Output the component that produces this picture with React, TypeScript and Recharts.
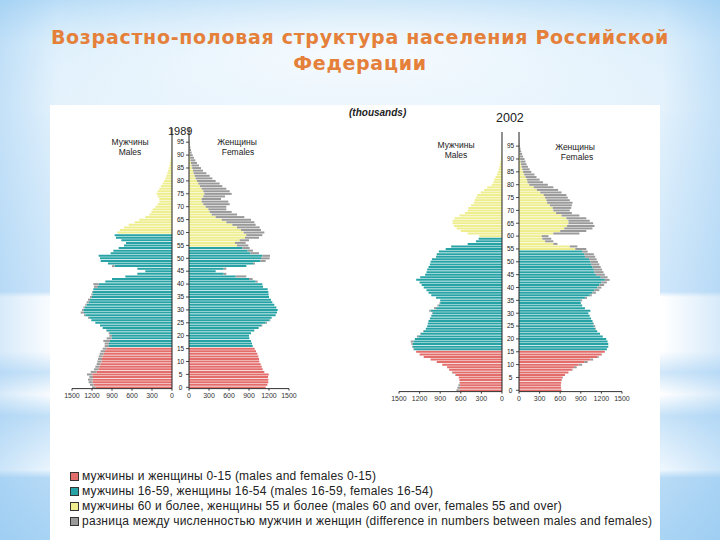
import { BarChart, Bar, XAxis, YAxis, Cell, ReferenceLine } from 'recharts'

// single-year ages shown on the pyramids
const AGES = Array.from({ length: 101 }, (_, i) => i)

// thousands of people, index = age
const MALES_1989 = [
  1200, 1230, 1250, 1260, 1240, 1275, 1220, 1170, 1150, 1130,
  1120, 1110, 1100, 1085, 1070, 1040, 1010, 1010, 1030, 980,
  940, 950, 990, 1040, 1080, 1150, 1210, 1260, 1320, 1370,
  1350, 1330, 1300, 1280, 1260, 1230, 1210, 1200, 1180, 1170,
  1180, 1000, 900, 700, 520, 400, 520, 900, 960, 1070,
  1080, 1100, 920, 880, 800, 720, 690, 760, 840, 860,
  820, 780, 720, 650, 560, 490, 400, 340, 310, 290,
  250, 215, 190, 190, 215, 230, 215, 190, 165, 140,
  120, 100, 85, 70, 60, 48, 38, 30, 22, 16,
  12, 9, 7, 5, 4, 3, 2, 1, 0, 0, 0,
]
const FEMALES_1989 = [
  1150, 1175, 1190, 1190, 1185, 1195, 1130, 1105, 1090, 1075,
  1055, 1050, 1040, 1025, 1005, 985, 955, 945, 930, 905,
  900, 930, 980, 1050, 1100, 1170, 1220, 1240, 1300, 1320,
  1330, 1310, 1280, 1250, 1230, 1200, 1195, 1190, 1180, 1110,
  1100, 1030, 955, 860, 560, 400, 560, 860, 990, 1150,
  1210, 1215, 1050, 960, 910, 890, 850, 900, 1050, 1100,
  1130, 1080, 1060, 1000, 980, 930, 830, 720, 640, 560,
  560, 610, 590, 480, 540, 640, 610, 560, 500, 460,
  400, 350, 310, 260, 210, 180, 150, 120, 95, 75,
  55, 40, 30, 22, 15, 10, 6, 4, 2, 1, 0,
]
const MALES_2002 = [
  665, 650, 635, 620, 620, 630, 680, 730, 770, 800,
  870, 950, 1040, 1140, 1200, 1250, 1290, 1310, 1320, 1330,
  1270, 1240, 1190, 1150, 1110, 1090, 1080, 1070, 1050, 1030,
  1020, 1060, 990, 940, 910, 900, 960, 1030, 1070, 1100,
  1140, 1170, 1200, 1250, 1190, 1120, 1100, 1090, 1070, 1050,
  1040, 1020, 960, 950, 920, 820, 740, 500, 380, 340,
  330, 500, 600, 660, 700, 720, 720, 690, 620, 540,
  500, 490, 450, 410, 400, 380, 360, 310, 260, 215,
  150, 125, 115, 95, 75, 60, 48, 38, 30, 22,
  16, 12, 9, 6, 4, 3, 2, 1, 0, 0, 0,
]
const FEMALES_2002 = [
  620, 612, 610, 615, 625, 640, 670, 720, 780, 840,
  920, 1000, 1080, 1160, 1210, 1250, 1280, 1300, 1300, 1290,
  1270, 1220, 1180, 1140, 1120, 1110, 1090, 1070, 1050, 1030,
  1010, 1040, 960, 920, 900, 920, 990, 1060, 1120, 1170,
  1200, 1240, 1280, 1320, 1290, 1250, 1230, 1210, 1190, 1170,
  1150, 1130, 1110, 1090, 1000, 980, 850, 560, 500, 470,
  430, 880, 980, 1070, 1100, 1080, 1030, 980, 880, 770,
  740, 760, 770, 780, 740, 710, 690, 620, 570, 500,
  420, 350, 300, 255, 225, 180, 155, 130, 110, 95,
  80, 60, 45, 32, 22, 15, 10, 6, 3, 2, 1,
]

const X_TICKS = [0, 300, 600, 900, 1200, 1500]
const LEGEND_LABELS = [
  'мужчины и женщины 0-15 (males and females 0-15)',
  'мужчины 16-59, женщины 16-54 (males 16-59, females 16-54)',
  'мужчины 60 и более, женщины 55 и более (males 60 and over, females 55 and over)',
  'разница между численностью мужчин и женщин (difference in numbers between males and females)',
]

const RED = '#e36d6b'
const TEAL = '#27a3a6'
const YELLOW = '#eeee8e'
const GRAY = '#9a9a9a'
const LEGEND_COLORS = [RED, TEAL, YELLOW, GRAY]
const FONT = "'Liberation Sans', Arial, sans-serif"

function groupColor(age: number, male: boolean) {
  if (age <= 15) return RED
  if (age <= (male ? 59 : 54)) return TEAL
  return YELLOW
}

function buildRows(own: number[], other: number[]) {
  return AGES.map((age, i) => {
    const base = Math.min(own[i], other[i])
    return { age, base, extra: own[i] - base }
  })
}

const AgeTick = (props: any) => {
  const { x, y, payload } = props
  if (payload.value > 95) return null
  return (
    <g>
      <line x1={x + 14} x2={x + 17} y1={y} y2={y} stroke="#222" strokeWidth={0.8} />
      <text x={x + 8.5} y={y} dy={2.3} textAnchor="middle" fontSize={6.5} fill="#222" fontFamily={FONT}>
        {payload.value}
      </text>
    </g>
  )
}

interface HalfProps {
  rows: { age: number; base: number; extra: number }[]
  male: boolean
  plotX: number
  plotY: number
  plotW: number
  plotH: number
}

// one side of a pyramid; plotX/plotY is the top-left corner of the bar area
function Half({ rows, male, plotX, plotY, plotW, plotH }: HalfProps) {
  const left = male ? 12 : 9
  const right = male ? 18 : 10
  return (
    <div style={{ position: 'absolute', left: plotX - left, top: plotY - 8 }}>
      <BarChart
        layout="vertical"
        width={left + plotW + right}
        height={8 + plotH + 20}
        data={rows}
        margin={{ top: 8, right: male ? 1 : right, left, bottom: 0 }}
        barCategoryGap="14%"
      >
        <XAxis
          type="number"
          domain={[0, 1500]}
          ticks={X_TICKS}
          interval={0}
          reversed={male}
          height={20}
          tickSize={2}
          tick={{ fontSize: 7, fill: '#333', fontFamily: FONT }}
          stroke="#333"
        />
        {male ? (
          <YAxis
            type="category"
            dataKey="age"
            reversed
            orientation="right"
            width={17}
            interval={4}
            tickSize={0}
            tickMargin={0}
            tickLine={false}
            tick={(p: any) => <AgeTick {...p} />}
            stroke="#222"
          />
        ) : (
          <YAxis type="category" dataKey="age" reversed hide />
        )}
        <Bar dataKey="base" stackId="s" isAnimationActive={false}>
          {rows.map((r) => (
            <Cell key={r.age} fill={groupColor(r.age, male)} />
          ))}
        </Bar>
        <Bar dataKey="extra" stackId="s" fill={GRAY} isAnimationActive={false} />
        {!male && <ReferenceLine x={0} stroke="#222" />}
      </BarChart>
    </div>
  )
}

const txt = (s: React.CSSProperties): React.CSSProperties => ({
  position: 'absolute',
  fontFamily: FONT,
  color: '#222',
  whiteSpace: 'nowrap',
  lineHeight: 1,
  ...s,
})

export default function App() {
  const m89 = buildRows(MALES_1989, FEMALES_1989)
  const f89 = buildRows(FEMALES_1989, MALES_1989)
  const m02 = buildRows(MALES_2002, FEMALES_2002)
  const f02 = buildRows(FEMALES_2002, MALES_2002)

  return (
    <div
      style={{
        position: 'absolute',
        left: 0,
        top: 0,
        width: 720,
        height: 540,
        overflow: 'hidden',
        background:
          'linear-gradient(to right, rgba(140,195,240,0.35) 0%, rgba(140,195,240,0) 8%, rgba(140,195,240,0) 92%, rgba(140,195,240,0.35) 100%),' +
          'radial-gradient(ellipse 60% 18% at 50% 10%, rgba(255,255,255,0.8), rgba(255,255,255,0)),' +
          'linear-gradient(to bottom, #b3daf6 0%, #d4ebfb 8%, #e2f1fc 20%, #d3e9fa 45%, #cfe6fa 54%, #ffffff 55%, #ffffff 65%, #cfe6f9 69%, #ffffff 73%, #c6e2f8 77%, #eef7fe 87%, #b8dbf6 88.5%, #a9d4f4 100%)',
      }}
    >
      <div
        style={{
          position: 'absolute',
          left: 0,
          top: 24,
          width: 720,
          textAlign: 'center',
          fontFamily: "'DejaVu Sans', Verdana, sans-serif",
          fontWeight: 'bold',
          fontSize: 19,
          letterSpacing: 0.7,
          lineHeight: '26px',
          color: '#e5803a',
        }}
      >
        Возрастно-половая структура населения Российской
        <br />
        Федерации
      </div>

      <div style={{ position: 'absolute', left: 50, top: 105, width: 610, height: 435, background: '#fff' }} />

      <Half rows={m89} male plotX={72} plotY={128} plotW={100} plotH={260.6} />
      <Half rows={f89} male={false} plotX={189} plotY={128} plotW={100} plotH={260.6} />
      <Half rows={m02} male plotX={399} plotY={132.4} plotW={103} plotH={259.6} />
      <Half rows={f02} male={false} plotX={519} plotY={132.4} plotW={103} plotH={259.6} />

      <div style={txt({ left: 349, top: 108, fontSize: 10, fontWeight: 'bold', fontStyle: 'italic' })}>(thousands)</div>
      <div style={txt({ left: 168, top: 126, fontSize: 11 })}>1989</div>
      <div style={txt({ left: 496, top: 112, fontSize: 12.5 })}>2002</div>

      <div style={txt({ left: 90, top: 138, width: 80, textAlign: 'center', fontSize: 8.5 })}>Мужчины</div>
      <div style={txt({ left: 90, top: 148, width: 80, textAlign: 'center', fontSize: 8.5 })}>Males</div>
      <div style={txt({ left: 197, top: 138, width: 80, textAlign: 'center', fontSize: 8.5 })}>Женщины</div>
      <div style={txt({ left: 198, top: 148, width: 80, textAlign: 'center', fontSize: 8.5 })}>Females</div>

      <div style={txt({ left: 416, top: 141, width: 80, textAlign: 'center', fontSize: 8.5 })}>Мужчины</div>
      <div style={txt({ left: 416, top: 151, width: 80, textAlign: 'center', fontSize: 8.5 })}>Males</div>
      <div style={txt({ left: 535, top: 143, width: 80, textAlign: 'center', fontSize: 8.5 })}>Женщины</div>
      <div style={txt({ left: 537, top: 153, width: 80, textAlign: 'center', fontSize: 8.5 })}>Females</div>

      {LEGEND_LABELS.map((label, i) => (
        <div key={label} style={{ position: 'absolute', left: 70, top: 469 + i * 15, display: 'flex', alignItems: 'center' }}>
          <div
            style={{
              width: 7,
              height: 7,
              background: LEGEND_COLORS[i],
              border: '1px solid #333',
              marginRight: 3,
            }}
          />
          <span style={{ fontFamily: FONT, fontSize: 12, letterSpacing: 0.22, color: '#222', whiteSpace: 'nowrap' }}>
            {label}
          </span>
        </div>
      ))}
    </div>
  )
}
